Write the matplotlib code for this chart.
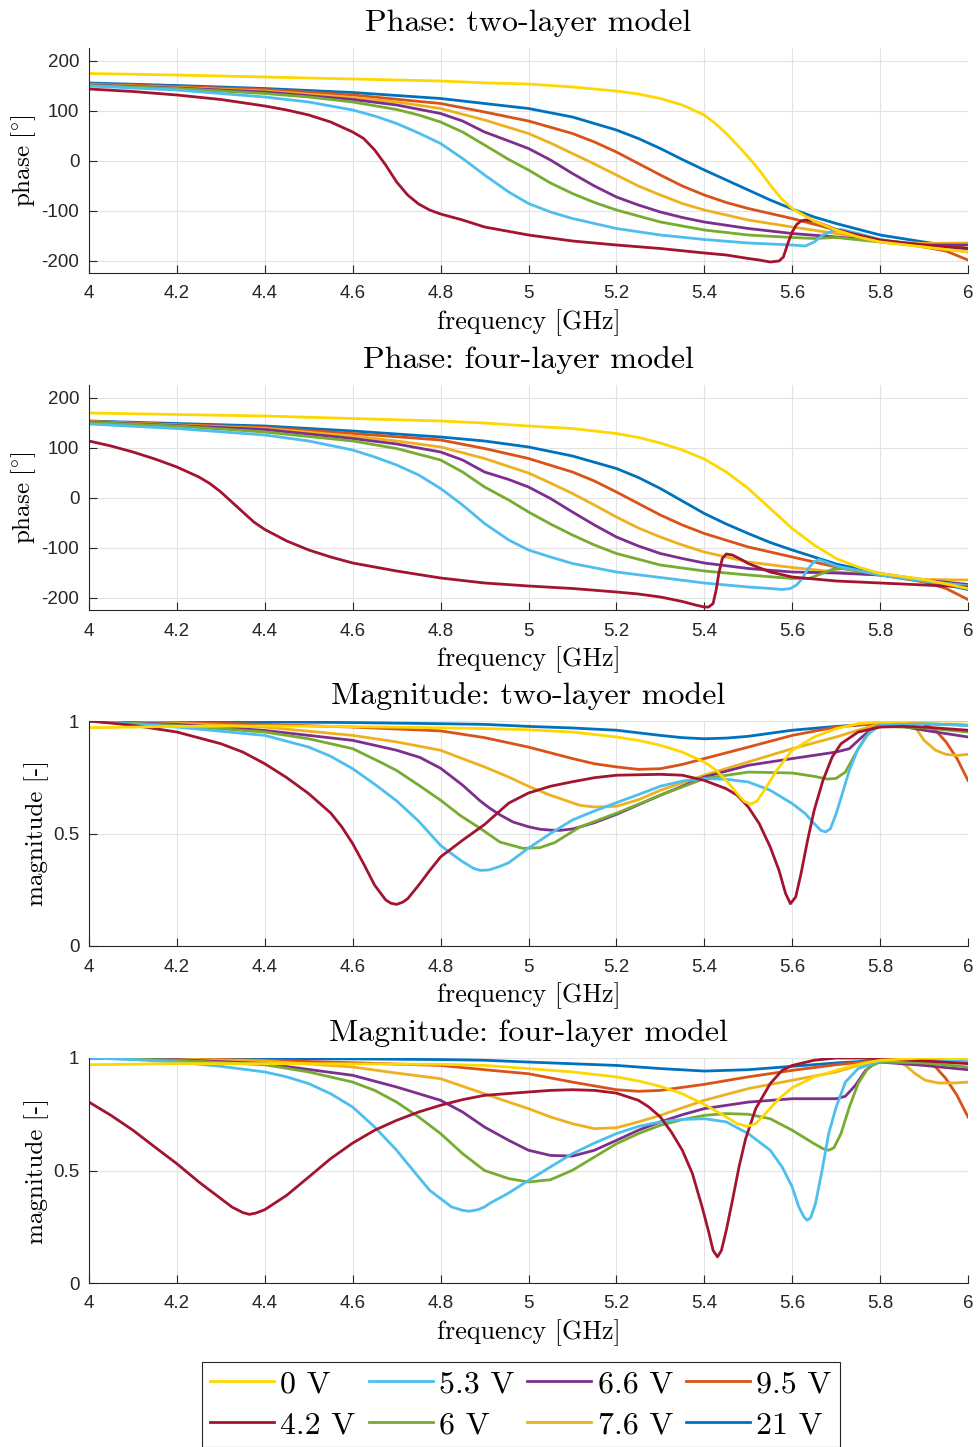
import matplotlib

matplotlib.use("Agg")
import matplotlib.pyplot as plt

plt.rcParams["mathtext.fontset"] = "cm"
plt.rcParams["axes.unicode_minus"] = False

# legend order; drawn in reverse so 0 V sits on top
VOLTAGES = ["0 V", "4.2 V", "5.3 V", "6 V", "6.6 V", "7.6 V", "9.5 V", "21 V"]
COLORS = ["#FFD700", "#A2142F", "#4DBEEE", "#77AC30",
          "#7E2F8E", "#EDB120", "#D95319", "#0072BD"]

FREQ_TICKS = [4.0, 4.2, 4.4, 4.6, 4.8, 5.0, 5.2, 5.4, 5.6, 5.8, 6.0]
FREQ_TICK_LABELS = ["4", "4.2", "4.4", "4.6", "4.8", "5", "5.2", "5.4", "5.6", "5.8", "6"]
PHASE_TICKS = [-200, -100, 0, 100, 200]
MAG_TICKS = [0, 0.5, 1]

# ---- phase, two-layer model: (frequency GHz, phase deg) ----
ph2_0v = [(4.0, 174), (4.2, 171), (4.4, 167), (4.6, 163), (4.8, 159), (4.911, 155), (5.0, 153),
          (5.1, 147), (5.2, 139), (5.25, 133), (5.3, 124), (5.35, 111), (5.375, 101), (5.4, 91),
          (5.425, 74), (5.45, 54), (5.475, 31), (5.5, 7), (5.525, -19), (5.55, -49),
          (5.575, -76), (5.6, -96), (5.625, -109), (5.65, -121), (5.7, -139), (5.75, -153),
          (5.8, -163), (5.9, -173), (6.0, -183)]
ph2_42v = [(4.0, 143), (4.1, 138), (4.2, 131), (4.3, 122), (4.4, 109), (4.45, 101), (4.5, 91),
           (4.55, 77), (4.6, 57), (4.625, 44), (4.65, 21), (4.675, -9), (4.7, -43),
           (4.725, -69), (4.75, -87), (4.775, -99), (4.8, -107), (4.85, -119), (4.9, -133),
           (5.0, -149), (5.1, -161), (5.2, -169), (5.3, -176), (5.4, -185), (5.45, -189),
           (5.5, -196), (5.525, -199), (5.55, -203), (5.57, -201), (5.58, -193), (5.59, -166),
           (5.6, -143), (5.61, -128), (5.62, -121), (5.63, -119), (5.65, -121), (5.7, -138),
           (5.75, -149), (5.8, -159), (5.9, -169), (6.0, -176)]
ph2_53v = [(4.0, 149), (4.2, 141), (4.4, 127), (4.5, 117), (4.6, 101), (4.65, 89), (4.7, 74),
           (4.75, 55), (4.8, 34), (4.85, 4), (4.9, -29), (4.955, -63), (5.0, -86), (5.05, -103),
           (5.1, -116), (5.2, -136), (5.3, -149), (5.4, -158), (5.5, -165), (5.6, -169),
           (5.63, -171), (5.65, -163), (5.67, -149), (5.691, -141), (5.711, -138), (5.75, -146),
           (5.8, -158), (5.9, -171), (6.0, -183)]
ph2_6v = [(4.0, 150), (4.2, 144), (4.4, 134), (4.5, 127), (4.6, 117), (4.7, 102), (4.75, 91),
          (4.8, 77), (4.85, 57), (4.9, 31), (4.955, 2), (5.0, -19), (5.05, -45), (5.1, -66),
          (5.15, -84), (5.2, -99), (5.25, -111), (5.3, -123), (5.4, -139), (5.5, -149),
          (5.6, -154), (5.65, -156), (5.7, -154), (5.8, -163), (5.9, -171), (6.0, -176)]
ph2_66v = [(4.0, 151), (4.2, 145), (4.4, 137), (4.6, 122), (4.7, 111), (4.8, 94), (4.85, 79),
           (4.9, 57), (4.955, 39), (5.0, 24), (5.05, 1), (5.1, -26), (5.15, -51), (5.2, -73),
           (5.25, -89), (5.3, -103), (5.35, -114), (5.4, -123), (5.5, -136), (5.6, -146),
           (5.7, -153), (5.8, -161), (5.9, -169), (6.0, -169)]
ph2_76v = [(4.0, 152), (4.2, 146), (4.4, 139), (4.6, 126), (4.7, 117), (4.8, 104), (4.9, 81),
           (5.0, 54), (5.05, 35), (5.1, 14), (5.15, -7), (5.2, -29), (5.25, -51), (5.3, -69),
           (5.35, -86), (5.4, -99), (5.5, -119), (5.6, -133), (5.7, -146), (5.8, -161),
           (5.9, -166), (6.0, -165)]
ph2_95v = [(4.0, 153), (4.2, 148), (4.4, 142), (4.6, 131), (4.8, 114), (4.9, 97), (5.0, 79),
           (5.1, 54), (5.15, 37), (5.2, 17), (5.25, -6), (5.3, -29), (5.35, -51), (5.4, -69),
           (5.45, -84), (5.5, -96), (5.6, -116), (5.7, -139), (5.8, -159), (5.9, -173),
           (5.95, -181), (6.0, -199)]
ph2_21v = [(4.0, 155), (4.2, 150), (4.4, 144), (4.6, 136), (4.8, 124), (4.9, 114), (5.0, 104),
           (5.1, 87), (5.2, 61), (5.25, 44), (5.3, 24), (5.35, 2), (5.4, -19), (5.45, -39),
           (5.5, -59), (5.55, -79), (5.6, -97), (5.65, -113), (5.7, -126), (5.8, -149),
           (5.9, -163), (6.0, -176)]

# ---- phase, four-layer model ----
ph4_0v = [(4.0, 169), (4.2, 166), (4.4, 163), (4.6, 158), (4.8, 153), (4.9, 149), (5.0, 143),
          (5.1, 138), (5.2, 128), (5.25, 120), (5.3, 109), (5.35, 95), (5.4, 77), (5.45, 51),
          (5.5, 18), (5.55, -22), (5.6, -62), (5.65, -95), (5.7, -122), (5.75, -139),
          (5.8, -152), (5.9, -164), (6.0, -182)]
ph4_42v = [(4.0, 113), (4.05, 103), (4.1, 91), (4.15, 77), (4.2, 61), (4.25, 41), (4.275, 28),
           (4.3, 11), (4.325, -9), (4.35, -29), (4.375, -49), (4.4, -64), (4.45, -87),
           (4.5, -105), (4.55, -119), (4.6, -131), (4.7, -147), (4.8, -161), (4.9, -171),
           (5.0, -177), (5.1, -182), (5.2, -189), (5.25, -193), (5.3, -199), (5.35, -208),
           (5.38, -215), (5.4, -219), (5.41, -219), (5.42, -212), (5.427, -185), (5.433, -152),
           (5.441, -122), (5.45, -113), (5.464, -115), (5.486, -125), (5.5, -132), (5.55, -149),
           (5.6, -159), (5.7, -167), (5.8, -171), (5.9, -175), (6.0, -179)]
ph4_53v = [(4.0, 147), (4.2, 138), (4.4, 125), (4.5, 113), (4.6, 95), (4.65, 81), (4.7, 65),
           (4.75, 45), (4.8, 18), (4.85, -15), (4.9, -52), (4.955, -85), (5.0, -105),
           (5.05, -119), (5.1, -132), (5.2, -149), (5.3, -160), (5.4, -171), (5.5, -179),
           (5.55, -182), (5.577, -184), (5.596, -182), (5.61, -175), (5.623, -162),
           (5.634, -145), (5.649, -129), (5.661, -124), (5.676, -129), (5.7, -137), (5.8, -155),
           (5.9, -167), (6.0, -177)]
ph4_6v = [(4.0, 150), (4.2, 143), (4.4, 131), (4.6, 113), (4.7, 98), (4.8, 75), (4.85, 51),
          (4.9, 21), (4.955, -5), (5.0, -29), (5.05, -53), (5.1, -75), (5.15, -95), (5.2, -112),
          (5.3, -135), (5.4, -147), (5.5, -155), (5.6, -162), (5.638, -162), (5.668, -152),
          (5.691, -144), (5.714, -142), (5.75, -147), (5.8, -155), (5.9, -167), (6.0, -177)]
ph4_66v = [(4.0, 151), (4.2, 144), (4.4, 136), (4.6, 118), (4.7, 107), (4.8, 91), (4.85, 75),
           (4.9, 51), (4.955, 36), (5.0, 21), (5.05, -2), (5.1, -29), (5.15, -55), (5.2, -79),
           (5.25, -97), (5.3, -112), (5.35, -122), (5.4, -131), (5.5, -142), (5.6, -149),
           (5.7, -151), (5.8, -155), (5.9, -165), (6.0, -174)]
ph4_76v = [(4.0, 152), (4.2, 145), (4.4, 138), (4.6, 123), (4.7, 113), (4.8, 101), (4.9, 78),
           (5.0, 49), (5.05, 29), (5.1, 8), (5.15, -15), (5.2, -39), (5.25, -61), (5.3, -79),
           (5.35, -95), (5.4, -109), (5.5, -129), (5.6, -140), (5.7, -149), (5.8, -155),
           (5.9, -164), (6.0, -165)]
ph4_95v = [(4.0, 152), (4.2, 146), (4.4, 140), (4.6, 128), (4.8, 115), (4.9, 98), (5.0, 78),
           (5.1, 51), (5.15, 33), (5.2, 11), (5.25, -12), (5.3, -35), (5.35, -55), (5.4, -72),
           (5.5, -99), (5.6, -119), (5.7, -139), (5.8, -155), (5.9, -169), (5.95, -182),
           (6.0, -204)]
ph4_21v = [(4.0, 153), (4.2, 148), (4.4, 143), (4.6, 133), (4.8, 121), (4.9, 113), (5.0, 101),
           (5.1, 83), (5.2, 58), (5.25, 40), (5.3, 18), (5.35, -7), (5.4, -32), (5.45, -53),
           (5.5, -72), (5.55, -90), (5.6, -105), (5.7, -133), (5.8, -152), (5.9, -165),
           (6.0, -184)]

# ---- magnitude, two-layer model ----
mag2_0v = [(4.0, 0.970), (4.2, 0.976), (4.4, 0.978), (4.6, 0.975), (4.8, 0.970), (4.911, 0.966),
           (5.0, 0.961), (5.1, 0.951), (5.2, 0.929), (5.25, 0.914), (5.3, 0.892), (5.35, 0.862),
           (5.4, 0.818), (5.425, 0.784), (5.45, 0.736), (5.475, 0.677), (5.49, 0.644),
           (5.505, 0.630), (5.52, 0.644), (5.539, 0.699), (5.562, 0.773), (5.585, 0.833),
           (5.6, 0.870), (5.65, 0.929), (5.7, 0.966), (5.75, 0.988), (5.8, 0.996), (5.9, 1.0),
           (6.0, 1.0)]
mag2_42v = [(4.0, 1.0), (4.1, 0.981), (4.2, 0.951), (4.3, 0.899), (4.35, 0.862), (4.4, 0.810),
            (4.45, 0.748), (4.5, 0.677), (4.55, 0.591), (4.575, 0.530), (4.6, 0.455),
            (4.625, 0.365), (4.65, 0.270), (4.675, 0.205), (4.687, 0.190), (4.7, 0.185),
            (4.714, 0.195), (4.725, 0.210), (4.75, 0.270), (4.775, 0.335), (4.8, 0.396),
            (4.85, 0.470), (4.9, 0.540), (4.955, 0.635), (5.0, 0.680), (5.05, 0.710),
            (5.1, 0.730), (5.15, 0.748), (5.2, 0.759), (5.3, 0.763), (5.35, 0.759), (5.4, 0.736),
            (5.45, 0.699), (5.475, 0.670), (5.5, 0.618), (5.525, 0.544), (5.55, 0.440),
            (5.57, 0.336), (5.585, 0.233), (5.596, 0.188), (5.608, 0.218), (5.62, 0.321),
            (5.635, 0.470), (5.65, 0.603), (5.67, 0.736), (5.691, 0.840), (5.711, 0.899),
            (5.75, 0.951), (5.8, 0.973), (5.85, 0.976), (5.9, 0.973), (6.0, 0.959)]
mag2_53v = [(4.0, 1.0), (4.2, 0.973), (4.4, 0.936), (4.5, 0.884), (4.55, 0.843), (4.6, 0.788),
            (4.65, 0.719), (4.7, 0.645), (4.75, 0.555), (4.8, 0.447), (4.825, 0.410),
            (4.85, 0.375), (4.875, 0.345), (4.89, 0.336), (4.91, 0.338), (4.935, 0.354),
            (4.955, 0.370), (5.0, 0.435), (5.05, 0.500), (5.1, 0.560), (5.15, 0.600),
            (5.2, 0.637), (5.25, 0.673), (5.3, 0.710), (5.35, 0.733), (5.4, 0.744),
            (5.45, 0.741), (5.5, 0.729), (5.55, 0.692), (5.6, 0.633), (5.63, 0.588),
            (5.65, 0.544), (5.665, 0.514), (5.676, 0.507), (5.687, 0.521), (5.7, 0.588),
            (5.714, 0.677), (5.73, 0.781), (5.75, 0.877), (5.774, 0.944), (5.8, 0.981),
            (5.9, 0.988), (6.0, 0.981)]
mag2_6v = [(4.0, 1.0), (4.2, 0.980), (4.4, 0.951), (4.5, 0.921), (4.6, 0.877), (4.662, 0.818),
           (4.7, 0.780), (4.75, 0.715), (4.8, 0.648), (4.844, 0.581), (4.89, 0.523),
           (4.935, 0.462), (4.987, 0.434), (5.026, 0.437), (5.06, 0.460), (5.117, 0.529),
           (5.2, 0.590), (5.3, 0.670), (5.4, 0.744), (5.5, 0.773), (5.6, 0.769), (5.65, 0.754),
           (5.68, 0.742), (5.7, 0.745), (5.721, 0.773), (5.744, 0.855), (5.767, 0.929),
           (5.789, 0.973), (5.8, 0.976), (5.9, 0.970), (6.0, 0.951)]
mag2_66v = [(4.0, 1.0), (4.2, 0.985), (4.4, 0.958), (4.6, 0.914), (4.7, 0.870), (4.753, 0.838),
            (4.8, 0.790), (4.85, 0.715), (4.87, 0.680), (4.89, 0.645), (4.91, 0.615),
            (4.935, 0.583), (4.965, 0.551), (5.0, 0.530), (5.026, 0.519), (5.05, 0.515),
            (5.072, 0.514), (5.1, 0.520), (5.117, 0.529), (5.15, 0.548), (5.2, 0.585),
            (5.3, 0.670), (5.4, 0.751), (5.5, 0.803), (5.6, 0.833), (5.7, 0.862), (5.73, 0.877),
            (5.759, 0.929), (5.782, 0.966), (5.8, 0.981), (5.85, 0.976), (5.9, 0.959),
            (6.0, 0.929)]
mag2_76v = [(4.0, 1.0), (4.2, 0.990), (4.4, 0.973), (4.6, 0.936), (4.7, 0.907), (4.8, 0.870),
            (4.86, 0.825), (4.9, 0.796), (4.955, 0.751), (5.003, 0.707), (5.05, 0.670),
            (5.117, 0.625), (5.15, 0.618), (5.2, 0.621), (5.25, 0.650), (5.3, 0.692),
            (5.4, 0.759), (5.5, 0.818), (5.6, 0.877), (5.7, 0.929), (5.75, 0.959), (5.8, 0.988),
            (5.85, 0.996), (5.877, 0.981), (5.9, 0.914), (5.926, 0.870), (5.95, 0.852),
            (5.975, 0.847), (6.0, 0.852)]
mag2_95v = [(4.0, 1.0), (4.2, 0.994), (4.4, 0.985), (4.6, 0.973), (4.8, 0.956), (4.9, 0.926),
            (5.0, 0.884), (5.1, 0.833), (5.15, 0.810), (5.2, 0.796), (5.25, 0.785), (5.3, 0.788),
            (5.35, 0.807), (5.4, 0.833), (5.5, 0.884), (5.6, 0.936), (5.7, 0.973), (5.8, 0.991),
            (5.85, 0.996), (5.9, 0.988), (5.926, 0.959), (5.95, 0.907), (5.975, 0.833),
            (6.0, 0.736)]
mag2_21v = [(4.0, 1.0), (4.4, 0.996), (4.6, 0.993), (4.8, 0.988), (4.9, 0.985), (5.0, 0.976),
            (5.1, 0.969), (5.2, 0.959), (5.3, 0.936), (5.35, 0.926), (5.4, 0.921), (5.45, 0.924),
            (5.5, 0.932), (5.6, 0.959), (5.7, 0.976), (5.8, 0.988), (5.9, 0.988), (6.0, 0.981)]

# ---- magnitude, four-layer model ----
mag4_0v = [(4.0, 0.970), (4.2, 0.975), (4.4, 0.975), (4.6, 0.974), (4.8, 0.972), (4.9, 0.967),
           (5.0, 0.953), (5.1, 0.938), (5.2, 0.916), (5.25, 0.898), (5.3, 0.874), (5.35, 0.841),
           (5.4, 0.794), (5.45, 0.738), (5.475, 0.708), (5.498, 0.696), (5.517, 0.708),
           (5.539, 0.753), (5.57, 0.819), (5.6, 0.868), (5.65, 0.916), (5.7, 0.945),
           (5.75, 0.972), (5.8, 0.990), (5.9, 1.0), (6.0, 0.997)]
mag4_42v = [(4.0, 0.804), (4.05, 0.745), (4.1, 0.679), (4.15, 0.604), (4.2, 0.530),
            (4.25, 0.449), (4.3, 0.375), (4.325, 0.338), (4.35, 0.313), (4.365, 0.305),
            (4.38, 0.311), (4.4, 0.326), (4.45, 0.390), (4.5, 0.471), (4.55, 0.553),
            (4.6, 0.622), (4.65, 0.679), (4.7, 0.723), (4.75, 0.760), (4.8, 0.790),
            (4.85, 0.815), (4.9, 0.834), (5.0, 0.849), (5.05, 0.856), (5.1, 0.859),
            (5.15, 0.856), (5.2, 0.844), (5.25, 0.812), (5.274, 0.782), (5.3, 0.738),
            (5.325, 0.671), (5.35, 0.590), (5.373, 0.486), (5.395, 0.338), (5.41, 0.227),
            (5.42, 0.145), (5.43, 0.116), (5.439, 0.145), (5.45, 0.234), (5.464, 0.367),
            (5.479, 0.516), (5.494, 0.641), (5.517, 0.775), (5.55, 0.886), (5.577, 0.945),
            (5.6, 0.967), (5.65, 0.990), (5.7, 1.0), (5.75, 1.0), (5.8, 0.997), (5.9, 0.987),
            (6.0, 0.975)]
mag4_53v = [(4.0, 1.0), (4.1, 0.993), (4.2, 0.982), (4.3, 0.963), (4.4, 0.938), (4.45, 0.916),
            (4.5, 0.886), (4.55, 0.841), (4.6, 0.782), (4.65, 0.693), (4.7, 0.590),
            (4.725, 0.530), (4.75, 0.471), (4.775, 0.412), (4.8, 0.375), (4.825, 0.338),
            (4.85, 0.323), (4.865, 0.319), (4.885, 0.326), (4.9, 0.338), (4.911, 0.353),
            (4.955, 0.400), (5.0, 0.456), (5.05, 0.516), (5.1, 0.575), (5.15, 0.622),
            (5.2, 0.664), (5.25, 0.696), (5.3, 0.716), (5.35, 0.727), (5.4, 0.730),
            (5.45, 0.716), (5.5, 0.664), (5.55, 0.590), (5.577, 0.516), (5.6, 0.427),
            (5.615, 0.338), (5.627, 0.293), (5.634, 0.279), (5.642, 0.290), (5.653, 0.353),
            (5.668, 0.501), (5.683, 0.664), (5.7, 0.782), (5.721, 0.893), (5.75, 0.953),
            (5.8, 0.987), (5.9, 0.990), (6.0, 0.982)]
mag4_6v = [(4.0, 1.0), (4.2, 0.990), (4.4, 0.970), (4.5, 0.938), (4.6, 0.893), (4.65, 0.856),
           (4.7, 0.804), (4.75, 0.738), (4.8, 0.664), (4.85, 0.575), (4.9, 0.500),
           (4.955, 0.464), (5.0, 0.449), (5.05, 0.459), (5.1, 0.501), (5.15, 0.560),
           (5.2, 0.619), (5.25, 0.664), (5.3, 0.701), (5.35, 0.726), (5.4, 0.745), (5.45, 0.753),
           (5.5, 0.750), (5.55, 0.730), (5.6, 0.679), (5.65, 0.619), (5.67, 0.597),
           (5.683, 0.590), (5.695, 0.601), (5.711, 0.664), (5.73, 0.782), (5.75, 0.886),
           (5.774, 0.960), (5.8, 0.982), (5.9, 0.978), (6.0, 0.960)]
mag4_66v = [(4.0, 1.0), (4.2, 0.993), (4.4, 0.975), (4.6, 0.923), (4.7, 0.871), (4.8, 0.812),
            (4.85, 0.760), (4.9, 0.693), (4.955, 0.634), (5.0, 0.590), (5.05, 0.567),
            (5.1, 0.564), (5.15, 0.590), (5.2, 0.634), (5.25, 0.679), (5.3, 0.716),
            (5.35, 0.748), (5.4, 0.775), (5.5, 0.804), (5.6, 0.819), (5.7, 0.819),
            (5.721, 0.830), (5.744, 0.879), (5.767, 0.945), (5.789, 0.978), (5.8, 0.982),
            (5.9, 0.967), (6.0, 0.948)]
mag4_76v = [(4.0, 1.0), (4.2, 0.995), (4.4, 0.987), (4.6, 0.960), (4.7, 0.933), (4.8, 0.908),
            (4.9, 0.841), (4.955, 0.804), (5.0, 0.775), (5.05, 0.738), (5.1, 0.708),
            (5.15, 0.686), (5.2, 0.690), (5.25, 0.716), (5.3, 0.745), (5.4, 0.812), (5.5, 0.864),
            (5.6, 0.901), (5.7, 0.938), (5.75, 0.967), (5.8, 0.990), (5.835, 0.993),
            (5.858, 0.967), (5.88, 0.930), (5.903, 0.901), (5.933, 0.889), (5.971, 0.889),
            (6.0, 0.893)]
mag4_95v = [(4.0, 1.0), (4.2, 0.996), (4.4, 0.990), (4.6, 0.979), (4.8, 0.967), (4.9, 0.948),
            (5.0, 0.930), (5.1, 0.893), (5.2, 0.859), (5.25, 0.852), (5.3, 0.856), (5.4, 0.883),
            (5.5, 0.916), (5.6, 0.945), (5.7, 0.970), (5.8, 0.990), (5.85, 0.993), (5.9, 0.982),
            (5.926, 0.960), (5.95, 0.908), (5.975, 0.834), (6.0, 0.738)]
mag4_21v = [(4.0, 1.0), (4.4, 0.997), (4.6, 0.996), (4.8, 0.993), (4.9, 0.990), (5.0, 0.982),
            (5.2, 0.967), (5.3, 0.953), (5.4, 0.942), (5.5, 0.948), (5.6, 0.963), (5.7, 0.978),
            (5.8, 0.990), (5.9, 0.990), (6.0, 0.982)]

PANELS = [
    ("Phase: two-layer model", r"$\mathrm{phase\ [^{\circ}]}$",
     [ph2_0v, ph2_42v, ph2_53v, ph2_6v, ph2_66v, ph2_76v, ph2_95v, ph2_21v], "phase"),
    ("Phase: four-layer model", r"$\mathrm{phase\ [^{\circ}]}$",
     [ph4_0v, ph4_42v, ph4_53v, ph4_6v, ph4_66v, ph4_76v, ph4_95v, ph4_21v], "phase"),
    ("Magnitude: two-layer model", "magnitude [-]",
     [mag2_0v, mag2_42v, mag2_53v, mag2_6v, mag2_66v, mag2_76v, mag2_95v, mag2_21v], "mag"),
    ("Magnitude: four-layer model", "magnitude [-]",
     [mag4_0v, mag4_42v, mag4_53v, mag4_6v, mag4_66v, mag4_76v, mag4_95v, mag4_21v], "mag"),
]

W, H = 979, 1447
AX_TOPS = [48, 385, 721, 1058]  # pixel rows of the axes tops
AX_LEFT, AX_W, AX_H = 89, 879, 225

SERIF = "cmr10"
SANS = "Liberation Sans"
DARK = "#262626"

fig = plt.figure(figsize=(W / 100, H / 100), dpi=100)

handles = {}
for (title, ylabel, curves, kind), top in zip(PANELS, AX_TOPS):
    ax = fig.add_axes([AX_LEFT / W, 1 - (top + AX_H) / H, AX_W / W, AX_H / H])
    for idx in reversed(range(len(curves))):
        fs = [p[0] for p in curves[idx]]
        vs = [p[1] for p in curves[idx]]
        (line,) = ax.plot(fs, vs, color=COLORS[idx], lw=2.0, solid_joinstyle="round")
        handles[idx] = line

    ax.set_xlim(4, 6)
    ax.set_xticks(FREQ_TICKS)
    ax.set_xticklabels(FREQ_TICK_LABELS)
    if kind == "phase":
        ax.set_ylim(-225, 225)
        ax.set_yticks(PHASE_TICKS)
        ax.set_yticklabels([str(t) for t in PHASE_TICKS])
        ypad = 2.4
    else:
        ax.set_ylim(0, 1)
        ax.set_yticks(MAG_TICKS)
        ax.set_yticklabels(["0", "0.5", "1"])
        ypad = 3.1

    ax.grid(True, color="#e3e3e3", lw=0.8)
    ax.set_axisbelow(True)
    for side in ("top", "right"):
        ax.spines[side].set_visible(False)
    for side in ("left", "bottom"):
        ax.spines[side].set_color(DARK)
        ax.spines[side].set_linewidth(0.8)
    ax.tick_params(direction="in", length=6, width=0.8, color=DARK, labelcolor=DARK,
                   labelsize=13.5)
    ax.tick_params(axis="x", pad=9)
    ax.tick_params(axis="y", pad=7)
    for lab in ax.get_xticklabels() + ax.get_yticklabels():
        lab.set_fontfamily(SANS)

    ax.set_title(title, fontfamily=SERIF, fontsize=23, pad=12.5)
    ax.set_xlabel("frequency [GHz]", fontfamily=SERIF, fontsize=18.7, labelpad=5)
    ax.set_ylabel(ylabel, fontfamily=SERIF, fontsize=18, labelpad=ypad)

leg = fig.legend(
    [handles[i] for i in range(len(VOLTAGES))],
    VOLTAGES,
    loc="upper left",
    bbox_to_anchor=(202 / W, 1 - 1362 / H),
    ncol=4,
    prop={"family": SERIF, "size": 23},
    frameon=True,
    fancybox=False,
    framealpha=1,
    edgecolor=DARK,
    handlelength=2.0,
    handletextpad=0.2,
    columnspacing=0.41,
    borderpad=0.25,
    labelspacing=0.39,
    borderaxespad=0,
)
leg.get_frame().set_linewidth(0.8)

fig.savefig("out.png", dpi=100)
